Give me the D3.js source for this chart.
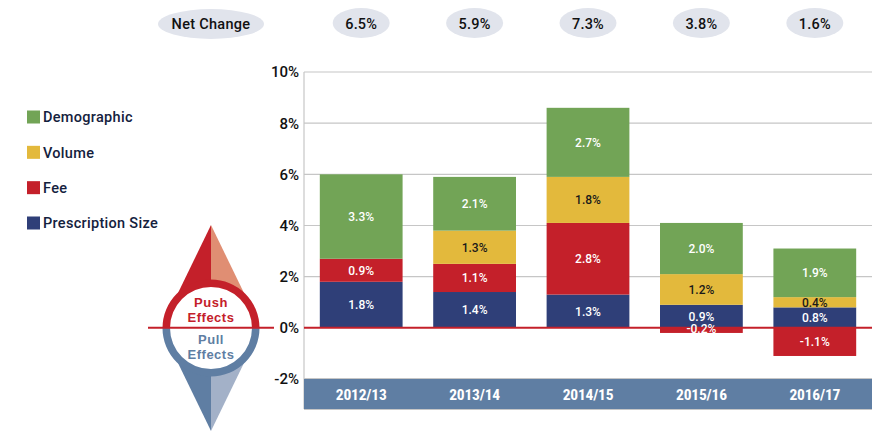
<!DOCTYPE html>
<html><head><meta charset="utf-8">
<script src="https://cdn.jsdelivr.net/npm/d3@7"></script>
<style>
html,body{margin:0;padding:0;background:#fff}
svg{display:block}
text{font-family:Roboto,"Noto Sans",sans-serif}
</style></head><body>
<svg id="c" width="885" height="437"></svg>
<script>
const years=["2012/13","2013/14","2014/15","2015/16","2016/17"];
const netChange=["6.5%","5.9%","7.3%","3.8%","1.6%"];
const prescriptionSize=[1.8,1.4,1.3,0.9,0.8];
const fee=[0.9,1.1,2.8,-0.2,-1.1];
const volume=[0,1.3,1.8,1.2,0.4];
const demographic=[3.3,2.1,2.7,2.0,1.9];
const yTicks=[-2,0,2,4,6,8,10];
const legendNames=["Demographic","Volume","Fee","Prescription Size"];
const series=[
 {name:"Prescription Size",values:prescriptionSize,color:"#2f3f78",label:"#fff"},
 {name:"Fee",values:fee,color:"#c4202a",label:"#fff"},
 {name:"Volume",values:volume,color:"#e3b93c",label:"#1a1a1a"},
 {name:"Demographic",values:demographic,color:"#72a456",label:"#fff"}
];
const colorOf=Object.fromEntries(series.map(s=>[s.name,s.color]));

const svg=d3.select("#c");
const y=d3.scaleLinear().domain([-2,10]).range([379,72]);
const x=d3.scaleBand().domain(years).range([304.5,871.5]).paddingInner(0.27).paddingOuter(0.135);

// gridlines
svg.append("g").selectAll("line").data(yTicks.filter(d=>d>-2&&d!==0)).join("line")
 .attr("x1",304).attr("x2",872).attr("y1",d=>y(d)).attr("y2",d=>y(d))
 .attr("stroke","#c6c6c6").attr("stroke-width",1.2);
svg.append("line").attr("x1",304).attr("x2",304).attr("y1",y(10)).attr("y2",409)
 .attr("stroke","#c6c6c6").attr("stroke-width",1.2);

// category band
svg.append("rect").attr("x",304).attr("width",568).attr("y",y(-2)).attr("height",30).attr("fill","#5f7ea3");
svg.append("line").attr("x1",304).attr("x2",872).attr("y1",y(-2)-0.5).attr("y2",y(-2)-0.5).attr("stroke","#c6c6c6");
svg.append("line").attr("x1",304).attr("x2",872).attr("y1",409.5).attr("y2",409.5).attr("stroke","#c6c6c6");

// stacked bars
years.forEach((yr,i)=>{
  let pos=0,neg=0;
  series.forEach(s=>{
    const v=s.values[i];
    if(v===0)return;
    const a=v>=0?pos:neg, b=a+v;
    if(v>=0)pos=b;else neg=b;
    svg.append("rect").attr("x",x(yr)).attr("width",x.bandwidth())
      .attr("y",y(Math.max(a,b))).attr("height",Math.abs(y(a)-y(b))).attr("fill",s.color);
    s._mid=s._mid||[];
    s._mid[i]=(a+b)/2;
  });
});

// zero line
const zeroCol="#c4202a";
svg.append("line").attr("x1",304).attr("x2",872).attr("y1",y(0)).attr("y2",y(0)).attr("stroke",zeroCol).attr("stroke-width",2);

// bar labels
series.forEach(s=>{
  s.values.forEach((v,i)=>{
    if(v===0)return;
    let dy=0;
    if(s.name==="Fee"&&v===-0.2)dy=-1.5;
    svg.append("text").attr("x",x(years[i])+x.bandwidth()/2).attr("y",y(s._mid[i])+dy)
      .attr("dy","0.36em").attr("text-anchor","middle").attr("font-size",12).attr("font-weight",500)
      .attr("fill",s.label).text(v.toFixed(1)+"%");
  });
});

// y labels
svg.append("g").selectAll("text").data(yTicks).join("text")
 .attr("x",299).attr("y",d=>y(d)).attr("dy","0.36em").attr("text-anchor","end")
 .attr("font-size",15).attr("font-weight",500).attr("fill","#111").text(d=>d+"%");

// category labels
svg.append("g").selectAll("text").data(years).join("text")
 .attr("x",d=>x(d)+x.bandwidth()/2).attr("y",394).attr("dy","0.36em").attr("text-anchor","middle")
 .style("font-family","'Liberation Sans Narrow','Roboto Condensed',sans-serif")
 .attr("font-size",15.5).attr("font-weight",700).attr("letter-spacing",-0.2).attr("fill","#fff").text(d=>d);

// net change ellipses
const ellipse="#e1e4ec";
svg.append("ellipse").attr("cx",211).attr("cy",24).attr("rx",53).attr("ry",15).attr("fill",ellipse);
svg.append("text").attr("x",211).attr("y",24).attr("dy","0.36em").attr("text-anchor","middle")
 .attr("font-size",14.5).attr("font-weight",500).attr("letter-spacing",0.3).attr("fill","#111").text("Net Change");
svg.append("g").selectAll("ellipse").data(years).join("ellipse")
 .attr("cx",d=>x(d)+x.bandwidth()/2).attr("cy",23).attr("rx",28.5).attr("ry",15).attr("fill",ellipse);
svg.append("g").selectAll("text").data(years).join("text")
 .attr("x",d=>x(d)+x.bandwidth()/2).attr("y",24).attr("dy","0.36em").attr("text-anchor","middle")
 .attr("font-size",14.5).attr("font-weight",500).attr("letter-spacing",0.2).attr("fill","#111").text((d,i)=>netChange[i]);

// legend
const legY=d3.scalePoint().domain(legendNames).range([117,223]);
const lg=svg.append("g").selectAll("g").data(legendNames).join("g");
lg.append("rect").attr("x",27).attr("y",d=>legY(d)-6.5).attr("width",13).attr("height",13).attr("fill",d=>colorOf[d]);
lg.append("text").attr("x",43).attr("y",d=>legY(d)).attr("dy","0.36em")
 .attr("font-size",14.5).attr("font-weight",500).attr("letter-spacing",0.3).attr("fill","#14213d").text(d=>d);

// compass
const g=svg.append("g");
const cx=211,cy=328;
g.append("path").attr("d",`M${cx} 225L${cx} 290L178 293Z`).attr("fill","#c4202a");
g.append("path").attr("d",`M${cx} 225L${cx} 290L244 293Z`).attr("fill","#e08e73");
g.append("path").attr("d",`M${cx} 431L${cx} 366L178 363Z`).attr("fill","#5f7ea3");
g.append("path").attr("d",`M${cx} 431L${cx} 366L244 363Z`).attr("fill","#a3b1c8");
const arc=d3.arc().innerRadius(41).outerRadius(48.5);
g.append("circle").attr("cx",cx).attr("cy",cy).attr("r",44).attr("fill","#fff");
g.append("path").attr("transform",`translate(${cx},${cy})`).attr("d",arc({startAngle:-Math.PI/2,endAngle:Math.PI/2})).attr("fill","#c4202a");
g.append("path").attr("transform",`translate(${cx},${cy})`).attr("d",arc({startAngle:Math.PI/2,endAngle:Math.PI*1.5})).attr("fill","#5f7ea3");
[[["Push","Effects"],306.5,"#c4202a"],[["Pull","Effects"],343.5,"#5f7ea3"]].forEach(t=>{
 const tx=g.append("text").attr("text-anchor","middle").attr("font-size",13).attr("font-weight",700)
  .style("font-family","'Liberation Sans',sans-serif").attr("letter-spacing",0.5).attr("fill",t[2]);
 t[0].forEach((w,i)=>tx.append("tspan").attr("x",cx).attr("y",t[1]+i*15).text(w));
});
svg.append("line").attr("x1",148).attr("x2",274).attr("y1",y(0)).attr("y2",y(0)).attr("stroke",zeroCol).attr("stroke-width",2);
</script>
</body></html>
